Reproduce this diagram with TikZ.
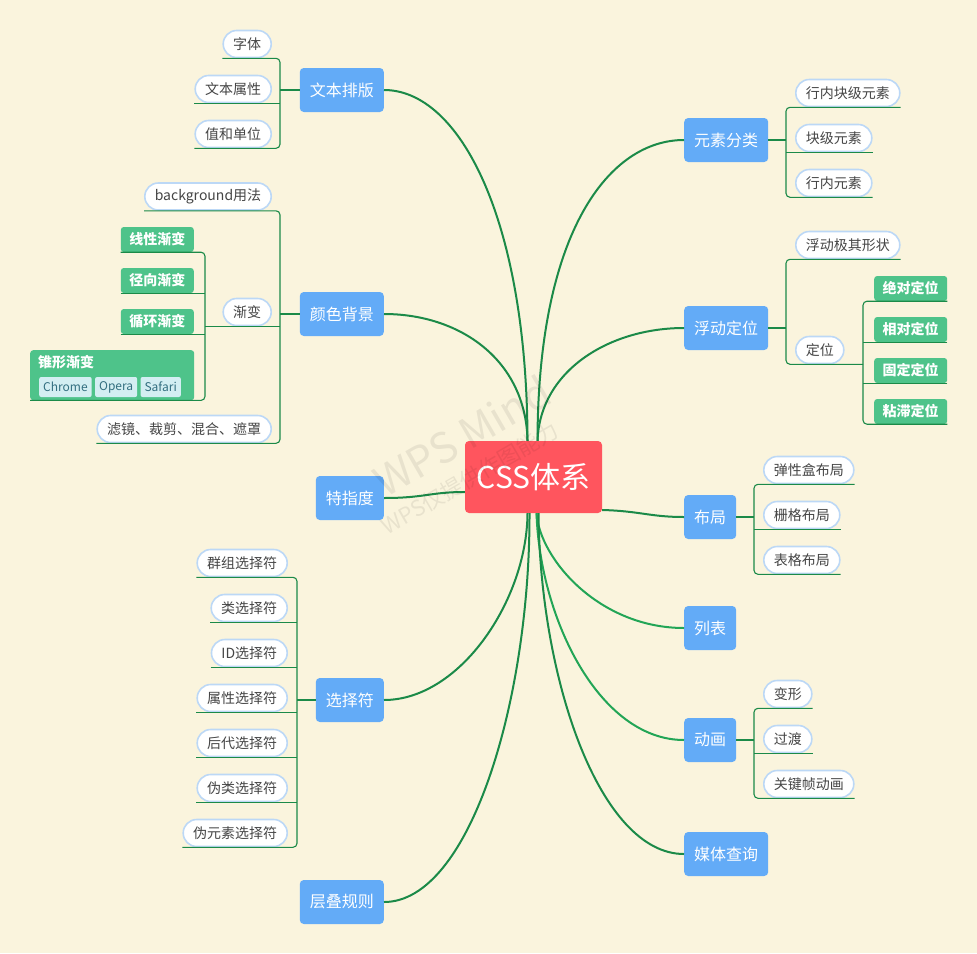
\documentclass[tikz,border=0pt]{standalone}
\usepackage{fontspec}
\setmainfont{Noto Sans CJK SC}
\usetikzlibrary{calc}
\definecolor{bg}{HTML}{FAF4DD}
\definecolor{topicblue}{HTML}{63ABF7}
\definecolor{centerred}{HTML}{FF555E}
\definecolor{gfill}{HTML}{4EC38A}
\definecolor{pillb}{HTML}{BCD8F6}
\definecolor{lgreen}{HTML}{1B8A48}
\definecolor{lgreen2}{HTML}{22A556}
\definecolor{tgray}{HTML}{454545}
\definecolor{tagfill}{HTML}{D3EEF2}
\definecolor{tagtext}{HTML}{336F80}
\begin{document}
\begin{tikzpicture}[x=1pt,y=-1pt,
 topic/.style={fill=topicblue, rounded corners=4pt, text=white, font=\fontsize{16}{18}\selectfont, minimum height=44pt, inner xsep=10pt, inner ysep=0pt},
 centre/.style={fill=centerred, rounded corners=4pt, text=white, font=\fontsize{30}{32}\selectfont, minimum height=72pt, minimum width=137pt, inner sep=0pt},
 pill/.style={fill=white, draw=pillb, line width=1.6pt, rounded corners=13.5pt, minimum height=27pt, inner xsep=10pt, inner ysep=0pt, text=tgray, font=\fontsize{14}{16}\selectfont},
 gbox/.style={fill=gfill, rounded corners=3pt, text=white, font=\bfseries\fontsize{14}{16}\selectfont, minimum height=25pt, minimum width=73pt, inner sep=0pt},
 tagbox/.style={fill=tagfill, rounded corners=2pt, text=tagtext, font=\fontsize{12}{14}\selectfont, minimum height=20pt, inner xsep=4pt, inner ysep=0pt},
 mainline/.style={draw=lgreen, line width=2pt},
 mainline2/.style={draw=lgreen2, line width=2pt},
 subline/.style={draw=lgreen, line width=1.1pt, rounded corners=4pt},
 wmark/.style={text=black, text opacity=0.07, rotate=30, inner sep=0pt},
]
\fill[bg] (0,0) rectangle (977,953);
\useasboundingbox (0,0) rectangle (977,953);

% centre
\node[centre] (c) at (533.5,477) {CSS体系};

% topics left
\node[topic, anchor=east] (t1) at (384,90) {文本排版};
\node[topic, anchor=east] (t2) at (384,314) {颜色背景};
\node[topic, anchor=east] (t3) at (384,498) {特指度};
\node[topic, anchor=east] (t4) at (384,700) {选择符};
\node[topic, anchor=east] (t5) at (384,902) {层叠规则};
% topics right
\node[topic, anchor=west] (r1) at (684,140) {元素分类};
\node[topic, anchor=west] (r2) at (684,328) {浮动定位};
\node[topic, anchor=west] (r3) at (684,517) {布局};
\node[topic, anchor=west] (r4) at (684,628) {列表};
\node[topic, anchor=west] (r5) at (684,740) {动画};
\node[topic, anchor=west] (r6) at (684,854) {媒体查询};

% main connectors
\draw[mainline] (t1.east) .. controls (460,90) and (527,220) .. ($(c.north)+(-6,0)$);
\draw[mainline] (t2.east) .. controls (460,314) and (526,360) .. ($(c.north)+(-6,0)$);
\draw[mainline] (t3.east) .. controls (425,498) and (430,492) .. ($(c.west)+(0,15)$);
\draw[mainline] (t4.east) .. controls (460,700) and (527,600) .. ($(c.south)+(-6,0)$);
\draw[mainline] (t5.east) .. controls (470,902) and (530,700) .. ($(c.south)+(-4,0)$);
\draw[mainline] (r1.west) .. controls (610,140) and (538,230) .. ($(c.north)+(4,0)$);
\draw[mainline] (r2.west) .. controls (610,328) and (540,370) .. ($(c.north)+(4,0)$);
\draw[mainline] ($(c.east)+(0,33)$) .. controls (640,511) and (650,517) .. (r3.west);
\draw[mainline2] (r4.west) .. controls (600,628) and (540,560) .. ($(c.south)+(3,0)$);
\draw[mainline2] (r5.west) .. controls (600,740) and (540,620) .. ($(c.south)+(3,0)$);
\draw[mainline] (r6.west) .. controls (600,854) and (540,680) .. ($(c.south)+(5,0)$);

% 文本排版 children
\node[pill, anchor=east] (a1) at (272,44) {字体};
\node[pill, anchor=east] (a2) at (272,89) {文本属性};
\node[pill, anchor=east] (a3) at (272,134) {值和单位};
\coordinate (bA) at (280,90);
\draw[subline] (a1.south west) -- (a1.south -| bA) -- (a3.south -| bA) -- (a3.south west);
\draw[subline] (a2.south west) -- (a2.south -| bA);
\draw[subline] (t1.west) -- (t1.west -| bA);

% 颜色背景 children
\node[pill, anchor=east] (b1) at (272,196.5) {background用法};
\node[pill, anchor=east] (b2) at (272,312) {渐变};
\node[pill, anchor=east] (b3) at (272,429) {滤镜、裁剪、混合、遮罩};
\coordinate (bB) at (280,314);
\coordinate (bG) at (205,314);
\draw[subline] (b1.south west) -- (b1.south -| bB) -- (b3.south -| bB) -- (b3.south west);
\draw[subline] (b2.south -| bG) -- (b2.south -| bB);
\draw[subline] (t2.west) -- (t2.west -| bB);

% 渐变 children
\node[gbox, anchor=east] (g1) at (194,239.5) {线性渐变};
\node[gbox, anchor=east] (g2) at (194,280.5) {径向渐变};
\node[gbox, anchor=east] (g3) at (194,321.5) {循环渐变};
\node[fill=gfill, rounded corners=3pt, minimum width=164pt, minimum height=50pt, inner sep=0pt, anchor=north west] (cone) at (30,350) {};
\node[text=white, font=\bfseries\fontsize{14}{16}\selectfont, anchor=west, inner sep=0pt] (conet) at (38,362) {锥形渐变};
\node[tagbox, anchor=west] (tc) at (39,387) {Chrome};
\node[tagbox, anchor=west] (to) at ($(tc.east)+(3,0)$) {Opera};
\node[tagbox, anchor=west] (ts) at ($(to.east)+(3,0)$) {Safari};
\draw[subline] (g1.south west) -- (g1.south -| bG) -- (cone.south -| bG) -- (cone.south west);
\draw[subline] (g2.south west) -- (g2.south -| bG);
\draw[subline] (g3.south west) -- (g3.south -| bG);

% 选择符 children
\node[pill, anchor=east] (s1) at (288,563) {群组选择符};
\node[pill, anchor=east] (s2) at (288,608) {类选择符};
\node[pill, anchor=east] (s3) at (288,653) {ID选择符};
\node[pill, anchor=east] (s4) at (288,698) {属性选择符};
\node[pill, anchor=east] (s5) at (288,743) {后代选择符};
\node[pill, anchor=east] (s6) at (288,788) {伪类选择符};
\node[pill, anchor=east] (s7) at (288,833) {伪元素选择符};
\coordinate (bS) at (297,700);
\draw[subline] (s1.south west) -- (s1.south -| bS) -- (s7.south -| bS) -- (s7.south west);
\foreach \n in {s2,s3,s4,s5,s6} \draw[subline] (\n.south west) -- (\n.south -| bS);
\draw[subline] (t4.west) -- (t4.west -| bS);

% 元素分类 children
\node[pill, anchor=west] (e1) at (795,93) {行内块级元素};
\node[pill, anchor=west] (e2) at (795,138) {块级元素};
\node[pill, anchor=west] (e3) at (795,183) {行内元素};
\coordinate (bE) at (786,140);
\draw[subline] (e1.south east) -- (e1.south -| bE) -- (e3.south -| bE) -- (e3.south east);
\draw[subline] (e2.south east) -- (e2.south -| bE);
\draw[subline] (r1.east) -- (r1.east -| bE);

% 浮动定位 children
\node[pill, anchor=west] (f1) at (795,245) {浮动极其形状};
\node[pill, anchor=west] (f2) at (795,350) {定位};
\coordinate (bF) at (786,328);
\coordinate (bD) at (863,350);
\draw[subline] (f1.south east) -- (f1.south -| bF) -- (f2.south -| bF) -- (f2.south -| bD);
\draw[subline] (r2.east) -- (r2.east -| bF);
\node[gbox, anchor=west] (d1) at (874,288.5) {绝对定位};
\node[gbox, anchor=west] (d2) at (874,329.5) {相对定位};
\node[gbox, anchor=west] (d3) at (874,370.5) {固定定位};
\node[gbox, anchor=west] (d4) at (874,411.5) {粘滞定位};
\draw[subline] (d1.south east) -- (d1.south -| bD) -- (d4.south -| bD) -- (d4.south east);
\draw[subline] (d2.south east) -- (d2.south -| bD);
\draw[subline] (d3.south east) -- (d3.south -| bD);

% 布局 children
\node[pill, anchor=west] (l1) at (763,470) {弹性盒布局};
\node[pill, anchor=west] (l2) at (763,515) {栅格布局};
\node[pill, anchor=west] (l3) at (763,560) {表格布局};
\coordinate (bL) at (754,517);
\draw[subline] (l1.south east) -- (l1.south -| bL) -- (l3.south -| bL) -- (l3.south east);
\draw[subline] (l2.south east) -- (l2.south -| bL);
\draw[subline] (r3.east) -- (r3.east -| bL);

% 动画 children
\node[pill, anchor=west] (n1) at (763,694) {变形};
\node[pill, anchor=west] (n2) at (763,739) {过渡};
\node[pill, anchor=west] (n3) at (763,784) {关键帧动画};
\coordinate (bN) at (754,740);
\draw[subline] (n1.south east) -- (n1.south -| bN) -- (n3.south -| bN) -- (n3.south east);
\draw[subline] (n2.south east) -- (n2.south -| bN);
\draw[subline] (r5.east) -- (r5.east -| bN);

% watermark (faint, on top)
\node[wmark, font=\fontsize{42}{42}\selectfont] (wm1) at (462,436) {WPS Mind};
\node[wmark, font=\fontsize{22}{22}\selectfont] (wm2) at (470,478) {WPS仅提供作图能力};
\end{tikzpicture}
\end{document}
